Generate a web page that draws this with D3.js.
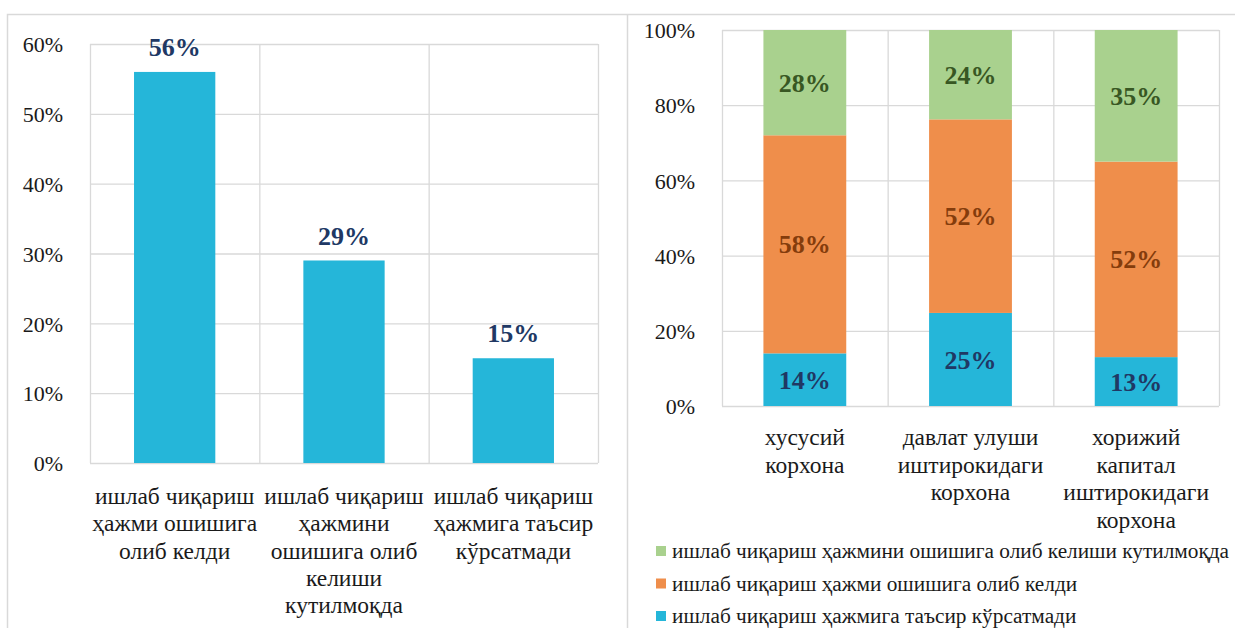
<!DOCTYPE html>
<meta charset="utf-8">
<style>
body { margin: 0; background: #fff; }
svg { font-family: "Liberation Serif", "Times New Roman", serif; }
.grid line { stroke: #d9d9d9; stroke-width: 1.3px; }
.grid path { display: none; }
.ticks text { fill: #1a1a1a; font-size: 22px; font-family: "Liberation Serif", serif; }
.ticks path, .ticks line { display: none; }
.cat { fill: #1a1a1a; font-size: 23.5px; }
.lbl { font-size: 26px; font-weight: bold; }
.legend text { fill: #1a1a1a; font-size: 21.3px; }
</style>
<script src="https://d3js.org/d3.v7.min.js"></script>
<body>
<script>

// left chart data
var leftCategories = ["ишлаб чиқариш\nҳажми ошишига\nолиб келди",
                      "ишлаб чиқариш\nҳажмини\nошишига олиб\nкелиши\nкутилмоқда",
                      "ишлаб чиқариш\nҳажмига таъсир\nкўрсатмади"];
var leftValues = [0.56, 0.29, 0.15];
var leftTicks = [0, 0.1, 0.2, 0.3, 0.4, 0.5, 0.6];

// right chart data
var rightCategories = ["хусусий\nкорхона", "давлат улуши\nиштирокидаги\nкорхона", "хорижий\nкапитал\nиштирокидаги\nкорхона"];
var seriesNames = ["ишлаб чиқариш ҳажмига таъсир кўрсатмади",
                   "ишлаб чиқариш ҳажми ошишига олиб келди",
                   "ишлаб чиқариш ҳажмини ошишига олиб келиши кутилмоқда"];
var noEffect = [0.14, 0.25, 0.13];
var increased = [0.58, 0.52, 0.52];
var expected = [0.28, 0.24, 0.35];
var rightTicks = [0, 0.2, 0.4, 0.6, 0.8, 1];

var fills = ["#25b6d9", "#ef8e4b", "#a9d18e"];
var labelColors = ["#203864", "#843c0c", "#385723"];

var svg = d3.select("body").append("svg")
    .attr("width", 1235)
    .attr("height", 628);

// panel borders
svg.append("path")
    .attr("d", "M7.5,640 V14.5 H1240 M627.5,14.5 V640")
    .attr("fill", "none")
    .attr("stroke", "#d9d9d9")
    .attr("stroke-width", 1.5);

var pct = d3.format(".0%");

function wrapLines(sel, lineH) {
  sel.each(function(d) {
    var t = d3.select(this);
    d.split("\n").forEach(function(line, i) {
      t.append("tspan").attr("x", 0).attr("dy", i == 0 ? 0 : lineH).text(line);
    });
  });
}

// ---------- left chart ----------
var L = {left: 90, top: 44, width: 508, height: 419};
var gl = svg.append("g").attr("transform", "translate(" + L.left + "," + L.top + ")");

var xl = d3.scaleBand().domain(leftCategories).range([0, L.width]).paddingInner(0.52).paddingOuter(0.26);
var yl = d3.scaleLinear().domain([0, 0.6]).range([L.height, 0]);
var xlEdges = d3.scaleLinear().domain([0, leftCategories.length]).range([0, L.width]);

gl.append("g").attr("class", "grid")
    .call(d3.axisLeft(yl).tickValues(leftTicks).tickSize(-L.width).tickFormat(""));
gl.append("g").attr("class", "grid")
    .call(d3.axisBottom(xlEdges).ticks(3).tickSize(L.height).tickSizeOuter(0).tickFormat(""));

gl.append("g").attr("class", "ticks")
    .attr("transform", "translate(-24,0)")
    .call(d3.axisLeft(yl).tickValues(leftTicks).tickFormat(pct).tickSize(0))
    .attr("font-family", null)
    .selectAll("text").attr("dy", "0.35em");

gl.selectAll(".bar")
    .data(leftValues)
  .enter().append("rect")
    .attr("class", "bar")
    .attr("x", function(d, i) { return xl(leftCategories[i]); })
    .attr("width", xl.bandwidth())
    .attr("y", function(d) { return yl(d); })
    .attr("height", function(d) { return L.height - yl(d); })
    .attr("fill", fills[0]);

gl.selectAll(".lbl")
    .data(leftValues)
  .enter().append("text")
    .attr("class", "lbl")
    .attr("x", function(d, i) { return xl(leftCategories[i]) + xl.bandwidth() / 2; })
    .attr("y", function(d) { return yl(d) - 25; })
    .attr("dy", "0.35em")
    .attr("text-anchor", "middle")
    .attr("fill", labelColors[0])
    .text(function(d) { return pct(d); });

gl.selectAll(".cat")
    .data(leftCategories)
  .enter().append("g")
    .attr("transform", function(d) { return "translate(" + (xl(d) + xl.bandwidth() / 2) + "," + (L.height + 41) + ")"; })
  .append("text")
    .attr("class", "cat")
    .attr("text-anchor", "middle")
    .call(wrapLines, 27.3);

// ---------- right chart ----------
var R = {left: 722, top: 30, width: 497, height: 376};
var gr = svg.append("g").attr("transform", "translate(" + R.left + "," + R.top + ")");

var rows = rightCategories.map(function(c, i) {
  return {cat: c, s0: noEffect[i], s1: increased[i], s2: expected[i]};
});
var stacked = d3.stack().keys(["s0", "s1", "s2"]).offset(d3.stackOffsetExpand)(rows);

var xr = d3.scaleBand().domain(rightCategories).range([0, R.width]).paddingInner(0.5).paddingOuter(0.25);
var yr = d3.scaleLinear().domain([0, 1]).range([R.height, 0]);
var xrEdges = d3.scaleLinear().domain([0, rightCategories.length]).range([0, R.width]);

gr.append("g").attr("class", "grid")
    .call(d3.axisLeft(yr).tickValues(rightTicks).tickSize(-R.width).tickFormat(""));
gr.append("g").attr("class", "grid")
    .call(d3.axisBottom(xrEdges).ticks(3).tickSize(R.height).tickSizeOuter(0).tickFormat(""));

gr.append("g").attr("class", "ticks")
    .attr("transform", "translate(-24,0)")
    .call(d3.axisLeft(yr).tickValues(rightTicks).tickFormat(pct).tickSize(0))
    .attr("font-family", null)
    .selectAll("text").attr("dy", "0.35em");

var layer = gr.selectAll(".layer")
    .data(stacked)
  .enter().append("g")
    .attr("class", "layer");

layer.selectAll("rect")
    .data(function(s) { return s.map(function(p) { return {p: p, k: s.index}; }); })
  .enter().append("rect")
    .attr("x", function(d) { return xr(d.p.data.cat); })
    .attr("width", xr.bandwidth())
    .attr("y", function(d) { return yr(d.p[1]); })
    .attr("height", function(d) { return yr(d.p[0]) - yr(d.p[1]); })
    .attr("fill", function(d) { return fills[d.k]; });

layer.selectAll("text")
    .data(function(s) { return s.map(function(p) { return {p: p, k: s.index, v: p.data[s.key]}; }); })
  .enter().append("text")
    .attr("class", "lbl")
    .attr("x", function(d) { return xr(d.p.data.cat) + xr.bandwidth() / 2; })
    .attr("y", function(d) { return (yr(d.p[0]) + yr(d.p[1])) / 2; })
    .attr("dy", "0.35em")
    .attr("text-anchor", "middle")
    .attr("fill", function(d) { return labelColors[d.k]; })
    .text(function(d) { return pct(d.v); });

gr.selectAll(".cat")
    .data(rightCategories)
  .enter().append("g")
    .attr("transform", function(d) { return "translate(" + (xr(d) + xr.bandwidth() / 2) + "," + (R.height + 39) + ")"; })
  .append("text")
    .attr("class", "cat")
    .attr("text-anchor", "middle")
    .call(wrapLines, 27.5);

// legend, top to bottom: expected, increased, no effect
var legend = svg.selectAll(".legend")
    .data([2, 1, 0])
  .enter().append("g")
    .attr("class", "legend")
    .attr("transform", function(d, i) { return "translate(656," + (551 + i * 32.5) + ")"; });

legend.append("rect")
    .attr("y", -5)
    .attr("width", 10)
    .attr("height", 10)
    .attr("fill", function(d) { return fills[d]; });

legend.append("text")
    .attr("x", 16)
    .attr("dy", "0.35em")
    .text(function(d) { return seriesNames[d]; });

</script>
